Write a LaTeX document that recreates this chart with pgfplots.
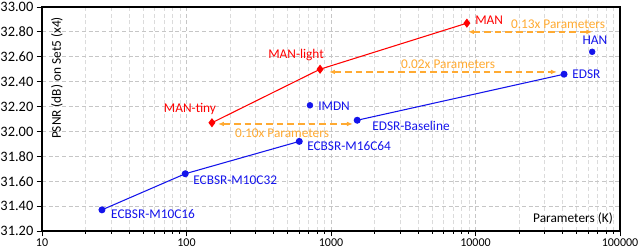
\documentclass[border=0pt]{standalone}
\usepackage{pgfplots}
\pgfplotsset{compat=1.18}
\usepackage{fontspec}
\setmainfont{Carlito}
\usetikzlibrary{arrows.meta}
\definecolor{mred}{RGB}{255,0,0}
\definecolor{mblue}{RGB}{20,20,235}
\definecolor{morange}{RGB}{255,170,50}
\begin{document}
\begin{tikzpicture}
\begin{axis}[
  at={(0,0)}, anchor=south west,
  scale only axis, width=433.5pt, height=168pt,
  xmode=log, log basis x=10,
  xmin=10, xmax=100000, ymin=31.2, ymax=33.0,
  xtick={10,100,1000,10000,100000},
  xticklabels={10,100,1000,10000,100000},
  minor xtick={20,30,40,50,60,70,80,90,200,300,400,500,600,700,800,900,2000,3000,4000,5000,6000,7000,8000,9000,20000,30000,40000,50000,60000,70000,80000,90000},
  ytick={31.2,31.4,31.6,31.8,32.0,32.2,32.4,32.6,32.8,33.0},
  yticklabel={\pgfmathprintnumber[fixed,fixed zerofill,precision=2,assume math mode=true]{\tick}},
  yticklabel style={font=\fontsize{10.8}{12}\selectfont, xshift=1pt},
  xticklabel style={font=\fontsize{9}{10}\selectfont, yshift=2pt},
  grid=both,
  major grid style={dash pattern=on 3pt off 2pt, gray!45, line width=0.6pt},
  minor grid style={dash pattern=on 3pt off 2pt, gray!28, line width=0.5pt},
  tick align=outside,
  xtick pos=bottom, ytick pos=left,
  major tick length=4pt, minor tick length=2pt,
  tick style={black, line width=0.6pt},
  axis line style={black, line width=1pt},
  clip=false,
  every node/.style={font=\fontsize{10.5}{12}\selectfont},
]
% ECBSR line
\addplot[mblue, line width=0.8pt, mark=*, mark size=2.2pt] coordinates {
  (26,31.37) (98,31.66) (603,31.92)
};
% EDSR line
\addplot[mblue, line width=0.8pt, mark=*, mark size=2.2pt] coordinates {
  (1518,32.09) (41000,32.46)
};
% MAN line
\addplot[mred, line width=0.8pt, mark=diamond*, mark size=2.8pt] coordinates {
  (150,32.07) (840,32.50) (8712,32.87)
};
% single points
\addplot[mblue, only marks, mark=*, mark size=2.2pt] coordinates {
  (715,32.21) (64200,32.64)
};
% arrows
\addplot[morange, dash pattern=on 5pt off 3pt, line width=1pt, {Latex[length=4.5pt,width=3.5pt]}-{Latex[length=4.5pt,width=3.5pt]}] coordinates {(165,32.06) (1419,32.06)};
\addplot[morange, dash pattern=on 5pt off 3pt, line width=1pt, {Latex[length=4.5pt,width=3.5pt]}-{Latex[length=4.5pt,width=3.5pt]}] coordinates {(968,32.478) (36640,32.478)};
\addplot[morange, dash pattern=on 5pt off 3pt, line width=1pt, {Latex[length=4.5pt,width=3.5pt]}-{Latex[length=4.5pt,width=3.5pt]}] coordinates {(8870,32.80) (64500,32.80)};
% labels
\node[text=morange] at (axis cs:458,31.984) {0.10x Parameters};
\node[text=morange] at (axis cs:6460,32.54) {0.02x Parameters};
\node[text=morange] at (axis cs:37250,32.865) {0.13x Parameters};
\node[text=mred, anchor=west, inner sep=0pt] at (axis cs:9930,32.897) {MAN};
\node[text=mred] at (axis cs:573,32.611) {MAN-light};
\node[text=mred] at (axis cs:105.7,32.183) {MAN-tiny};
\node[text=mblue, anchor=west, inner sep=0pt] at (axis cs:813,32.206) {IMDN};
\node[text=mblue, anchor=west, inner sep=0pt] at (axis cs:1923,32.048) {EDSR-Baseline};
\node[text=mblue, anchor=west, inner sep=0pt] at (axis cs:682,31.881) {ECBSR-M16C64};
\node[text=mblue, anchor=west, inner sep=0pt] at (axis cs:111,31.611) {ECBSR-M10C32};
\node[text=mblue, anchor=west, inner sep=0pt] at (axis cs:30,31.333) {ECBSR-M10C16};
\node[text=mblue, anchor=west, inner sep=0pt] at (axis cs:46600,32.46) {EDSR};
\node[text=mblue] at (axis cs:67100,32.73) {HAN};
\node[anchor=east, inner sep=0pt] at (axis cs:89500,31.302) {Parameters (K)};
\node[rotate=90] at (rel axis cs:0.026,0.683) {PSNR (dB) on Set5 (x4)};
\end{axis}
\pgfresetboundingbox
\path[use as bounding box] ([shift={(-31.5pt,-15.75pt)}]current axis.south west) rectangle ([shift={(15pt,5.25pt)}]current axis.north east);
\end{tikzpicture}
\end{document}
